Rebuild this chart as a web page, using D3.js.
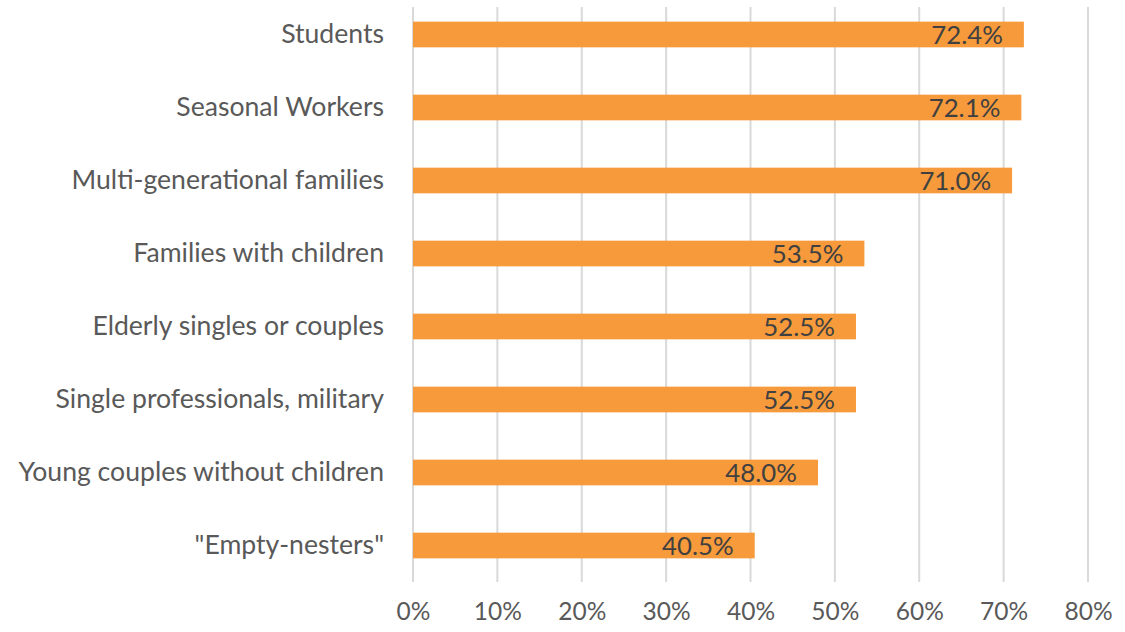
<!DOCTYPE html>
<html>
<head>
<meta charset="utf-8">
<script src="https://cdn.jsdelivr.net/npm/d3@7"></script>
<style>
  html, body { margin: 0; padding: 0; background: #fff; }
  svg { display: block; }
  text { font-family: Lato, "Open Sans", sans-serif; }
</style>
</head>
<body>
<svg id="chart" width="1125" height="632"></svg>
<script>
// Share of respondents by household type
const categories = [
  "Students",
  "Seasonal Workers",
  "Multi-generational families",
  "Families with children",
  "Elderly singles or couples",
  "Single professionals, military",
  "Young couples without children",
  "\"Empty-nesters\""
];
const values = [72.4, 72.1, 71.0, 53.5, 52.5, 52.5, 48.0, 40.5];
const tickValues = [0, 10, 20, 30, 40, 50, 60, 70, 80];

const svg = d3.select("#chart");
const plotLeft = 413, plotRight = 1088, gridTop = 7, gridBottom = 582;

const x = d3.scaleLinear().domain([0, 80]).range([plotLeft, plotRight]);
const y = d3.scaleBand().domain(categories).range([-2, 582]).paddingInner(0.648).paddingOuter(0.324);

// vertical gridlines
svg.append("g")
  .selectAll("line")
  .data(tickValues)
  .join("line")
  .attr("x1", d => x(d)).attr("x2", d => x(d))
  .attr("y1", gridTop).attr("y2", gridBottom)
  .attr("stroke", "#d9d9d9").attr("stroke-width", 2);

// x-axis tick labels
const xAxis = d3.axisBottom(x).tickValues(tickValues).tickFormat(d => d + "%").tickSize(0).tickPadding(0);
const gx = svg.append("g").attr("transform", `translate(0,${603})`).call(xAxis);
gx.select(".domain").remove();
gx.selectAll("text").attr("font-size", 24.5).attr("fill", "#595959")
  .attr("font-family", "Lato, 'Open Sans', sans-serif");

// category labels
const yAxis = d3.axisLeft(y).tickSize(0).tickPadding(0);
const gy = svg.append("g").attr("transform", `translate(${384},0)`).call(yAxis);
gy.select(".domain").remove();
gy.selectAll("text").attr("font-size", 26.6).attr("fill", "#595959")
  .attr("font-family", "Lato, 'Open Sans', sans-serif");

// bars
svg.append("g")
  .selectAll("rect")
  .data(values)
  .join("rect")
  .attr("x", x(0))
  .attr("y", (d, i) => y(categories[i]))
  .attr("width", d => x(d) - x(0))
  .attr("height", y.bandwidth())
  .attr("fill", "#f79a3b");

// value labels inside the bar ends
svg.append("g")
  .selectAll("text")
  .data(values)
  .join("text")
  .attr("x", d => x(d) - 21)
  .attr("y", (d, i) => y(categories[i]) + y.bandwidth() / 2)
  .attr("dy", "0.36em")
  .attr("text-anchor", "end")
  .attr("font-size", 25.8)
  .attr("fill", "#404040")
  .text(d => d.toFixed(1) + "%");
</script>
</body>
</html>
